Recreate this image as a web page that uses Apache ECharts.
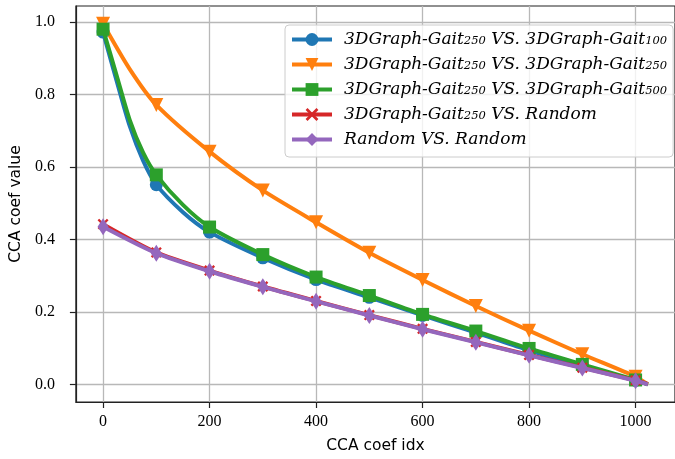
<!DOCTYPE html>
<html>
<head>
<meta charset="utf-8">
<script src="https://cdn.jsdelivr.net/npm/echarts@6/dist/echarts.min.js"></script>
<style>
  html, body { margin: 0; padding: 0; background: #fff; }
  #container { width: 675px; height: 459px; }
</style>
</head>
<body>
<div id="container"></div>
<script>
// values
const seriesNames = [
  '3DGraph-Gait250 VS. 3DGraph-Gait100',
  '3DGraph-Gait250 VS. 3DGraph-Gait250',
  '3DGraph-Gait250 VS. 3DGraph-Gait500',
  '3DGraph-Gait250 VS. Random',
  'Random VS. Random'
];
const xTicks = [0, 200, 400, 600, 800, 1000];
const yTicks = [0, 0.2, 0.4, 0.6, 0.8, 1.0];

const idxFine = [0, 25, 50, 75, 100, 150, 200, 300, 400, 500, 600, 700, 800, 900, 1000, 1023];
const gait100 = [0.972, 0.84, 0.713, 0.618, 0.551, 0.475, 0.42, 0.349, 0.289, 0.24, 0.19, 0.143, 0.094, 0.05, 0.011, 0.0];
const gait500 = [0.98, 0.855, 0.73, 0.64, 0.578, 0.495, 0.434, 0.358, 0.296, 0.245, 0.193, 0.147, 0.099, 0.055, 0.012, 0.0];

const idxOrange = [0, 50, 100, 200, 300, 400, 500, 600, 700, 800, 900, 1000, 1023];
const gait250 = [0.995, 0.87, 0.771, 0.642, 0.535, 0.447, 0.363, 0.288, 0.216, 0.148, 0.083, 0.021, 0.0];

const idxRand = [0, 100, 200, 300, 400, 500, 600, 700, 800, 900, 1000, 1023];
const gaitRandom = [0.442, 0.364, 0.314, 0.27, 0.23, 0.191, 0.153, 0.117, 0.081, 0.046, 0.011, 0.001];
const randRandom = [0.435, 0.362, 0.312, 0.269, 0.229, 0.19, 0.152, 0.116, 0.08, 0.045, 0.01, 0.0];

const colors = ['#1f77b4', '#ff7f0e', '#2ca02c', '#d62728', '#9467bd'];

function pts(xs, ys) {
  return xs.map((x, i) => x % 100 === 0 ? [x, ys[i]] : { value: [x, ys[i]], symbol: 'none' });
}

const crossPath = 'path://M0,1.5L1.5,0L5,3.5L8.5,0L10,1.5L6.5,5L10,8.5L8.5,10L5,6.5L1.5,10L0,8.5L3.5,5Z';

function mkSeries(i, xs, ys, symbol, size, extra) {
  return Object.assign({
    name: seriesNames[i],
    type: 'line',
    data: pts(xs, ys),
    smooth: 0.25,
    symbol: symbol,
    symbolSize: size,
    showSymbol: true,
    lineStyle: { width: 4, color: colors[i] },
    itemStyle: { color: colors[i] },
    emphasis: { disabled: true },
    z: 2 + i
  }, extra || {});
}

function onTick(v, ticks) {
  return ticks.some(t => Math.abs(t - v) < 1e-6);
}

// serif tick labels through rich text
const tickRich = { t: { fontFamily: 'Liberation Serif', fontSize: 16, color: '#000' } };

const myChart = echarts.init(document.getElementById('container'));
const option = {
  animation: false,
  color: colors,
  grid: {
    left: 73, top: 6, width: 610, height: 397,
    show: true, borderColor: '#222', borderWidth: 1.2, backgroundColor: 'transparent'
  },
  legend: {
    orient: 'vertical',
    left: 285,
    top: 25,
    itemWidth: 40,
    itemHeight: 16,
    itemGap: 8,
    padding: [6, 6, 9, 5],
    backgroundColor: 'rgba(255,255,255,0.8)',
    borderColor: '#cccccc',
    borderWidth: 1,
    borderRadius: 4,
    lineStyle: { width: 4 },
    data: seriesNames,
    formatter: name => '{a|' + name.replace(/Gait(\d+)/g, 'Gait}{s|$1}{a|') + '}',
    textStyle: {
      padding: [0, 0, 0, 7],
      rich: {
        a: { fontFamily: 'DejaVu Serif', fontStyle: 'italic', fontSize: 17, color: '#000', lineHeight: 16, verticalAlign: 'middle' },
        s: { fontFamily: 'DejaVu Serif', fontStyle: 'italic', fontSize: 11.5, color: '#000', verticalAlign: 'bottom' }
      }
    }
  },
  xAxis: {
    type: 'value',
    min: -51,
    max: 1074,
    name: 'CCA coef idx',
    nameLocation: 'middle',
    nameGap: 36,
    nameTextStyle: { fontFamily: 'DejaVu Sans', fontSize: 15.5, color: '#000' },
    axisLine: { show: true, onZero: false, lineStyle: { color: '#222', width: 1.2 } },
    axisTick: { show: true, length: 6, customValues: xTicks, lineStyle: { color: '#222', width: 1.2 } },
    axisLabel: { margin: 12, showMinLabel: false, showMaxLabel: false, rich: tickRich,
      formatter: v => onTick(v, xTicks) ? '{t|' + Math.round(v) + '}' : '' },
    splitLine: { show: true, lineStyle: { color: '#b8b8b8', width: 1.3 } }
  },
  yAxis: {
    type: 'value',
    min: -0.0488,
    max: 1.044,
    name: 'CCA coef value',
    nameLocation: 'middle',
    nameRotate: 90,
    nameGap: 50,
    nameTextStyle: { fontFamily: 'DejaVu Sans', fontSize: 15.5, color: '#000' },
    axisLine: { show: true, onZero: false, lineStyle: { color: '#222', width: 1.2 } },
    axisTick: { show: true, length: 6, customValues: yTicks, lineStyle: { color: '#222', width: 1.2 } },
    axisLabel: { margin: 21, showMinLabel: false, showMaxLabel: false, rich: tickRich,
      formatter: v => onTick(v, yTicks) ? '{t|' + v.toFixed(1) + '}' : '' },
    splitLine: { show: true, lineStyle: { color: '#b8b8b8', width: 1.3 } }
  },
  series: [
    mkSeries(0, idxFine, gait100, 'circle', 13),
    mkSeries(1, idxOrange, gait250, 'triangle', 14, { symbolRotate: 180 }),
    mkSeries(2, idxFine, gait500, 'rect', 13),
    mkSeries(3, idxRand, gaitRandom, crossPath, 11),
    mkSeries(4, idxRand, randRandom, 'diamond', [11, 17])
  ]
};
myChart.setOption(option);
window.addEventListener('resize', () => {
    myChart.resize()
})
</script>
</body>
</html>
